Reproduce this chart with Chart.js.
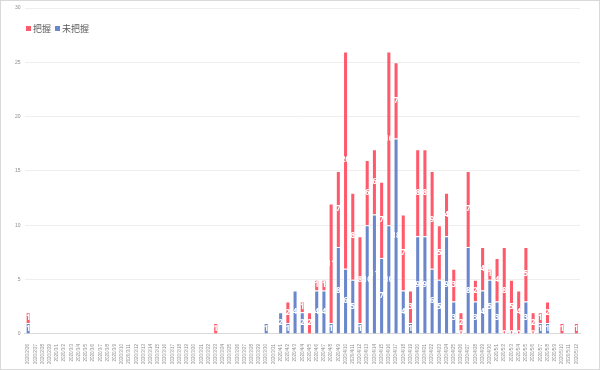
<!DOCTYPE html>
<html>
<head>
<meta charset="utf-8">
<script src="https://cdn.jsdelivr.net/npm/chart.js@4"></script>
<style>
  body { margin: 0; background: #fff; }
  .frame { position: relative; width: 600px; height: 370px; box-sizing: border-box; border: 1px solid #d9d9d9; }
  .legend { position: absolute; left: 25px; top: 21px; font: 9px "Noto Sans CJK JP", sans-serif; color: #595959; display: flex; gap: 4px; }
  .legend span { display: inline-flex; align-items: center; }
  .legend i { display: inline-block; width: 5px; height: 5px; margin-right: 2px; }
</style>
</head>
<body>
<div class="frame">
  <canvas id="chart" width="598" height="368"></canvas>
  <div class="legend" id="legend"></div>
</div>
<script>
// categories (daily)
const dates = [
  '2020/2/26','2020/2/27','2020/2/28','2020/2/29',
  '2020/3/1','2020/3/2','2020/3/3','2020/3/4','2020/3/5','2020/3/6','2020/3/7','2020/3/8',
  '2020/3/9','2020/3/10','2020/3/11','2020/3/12','2020/3/13','2020/3/14','2020/3/15','2020/3/16',
  '2020/3/17','2020/3/18','2020/3/19','2020/3/20','2020/3/21','2020/3/22','2020/3/23','2020/3/24',
  '2020/3/25','2020/3/26','2020/3/27','2020/3/28','2020/3/29','2020/3/30','2020/3/31',
  '2020/4/1','2020/4/2','2020/4/3','2020/4/4','2020/4/5','2020/4/6','2020/4/7','2020/4/8',
  '2020/4/9','2020/4/10','2020/4/11','2020/4/12','2020/4/13','2020/4/14','2020/4/15','2020/4/16',
  '2020/4/17','2020/4/18','2020/4/19','2020/4/20','2020/4/21','2020/4/22','2020/4/23','2020/4/24',
  '2020/4/25','2020/4/26','2020/4/27','2020/4/28','2020/4/29','2020/4/30',
  '2020/5/1','2020/5/2','2020/5/3','2020/5/4','2020/5/5','2020/5/6','2020/5/7','2020/5/8',
  '2020/5/9','2020/5/10','2020/5/11','2020/5/12'
];

// 未把握 (bottom, blue)
const unknown = [
  1, null, null, null, null, null, null, null, null, null, null, null, null, null, null, null,
  null, null, null, null, null, null, null, null, null, null, null, null, null, null, null, null,
  null, 1, null, 2, 1, 4, 2, null, 4, 4, 1, 8, 6, 5, 1, 10, 11, 7, 10, 18, 4, 1, 9, 9,
  6, 5, 9, 3, 0, 8, 3, 4, 5, 3, 0, 0, 0, 3, 0, 1, 1, null, null, null, null
];

// 把握 (top, red)
const known = [
  1, null, null, null, null, null, null, null, null, null, null, null, null, null, null, null,
  null, null, null, null, null, null, null, null, null, null, 1, null, null, null, null, null,
  null, null, null, null, 2, null, 1, 2, 1, 1, 11, 7, 20, 8, 8, 6, 6, 7, 16, 7, 7, 3, 8, 8,
  9, 5, 4, 3, 2, 7, 2, 4, 1, 4, 8, 5, 4, 5, 2, 1, 2, null, 1, null, 1
];

const yTicks = [0, 5, 10, 15, 20, 25, 30];
const legendOrder = ['把握', '未把握'];

// white value labels in the middle of every segment
const segmentLabels = {
  id: 'segmentLabels',
  afterDatasetsDraw(chart) {
    const ctx = chart.ctx;
    ctx.save();
    ctx.font = 'bold 8px "Noto Sans", sans-serif';
    ctx.fillStyle = '#ffffff';
    ctx.textAlign = 'center';
    ctx.textBaseline = 'middle';
    chart.data.datasets.forEach((ds, i) => {
      chart.getDatasetMeta(i).data.forEach((bar, j) => {
        const v = ds.data[j];
        if (v === null || v === undefined) return;
        const p = bar.getProps(['x', 'y', 'base'], true);
        ctx.fillText(String(v), p.x, (p.y + p.base) / 2);
      });
    });
    ctx.restore();
  }
};

const chart = new Chart(document.getElementById('chart'), {
  type: 'bar',
  data: {
    labels: dates,
    datasets: [
      { label: '未把握', data: unknown, backgroundColor: '#6a87cc', borderColor: 'rgba(255,255,255,0.45)', borderWidth: 1 },
      { label: '把握', data: known, backgroundColor: '#ff5a6c', borderColor: 'rgba(255,255,255,0.45)', borderWidth: 1 }
    ]
  },
  options: {
    responsive: false,
    animation: false,
    devicePixelRatio: 1,
    layout: { padding: { left: 10, right: 19, top: 6, bottom: 3 } },
    datasets: { bar: { categoryPercentage: 1, barPercentage: 0.7 } },
    plugins: { legend: { display: false }, tooltip: { enabled: false } },
    scales: {
      x: {
        stacked: true,
        grid: { display: false },
        border: { color: '#d9d9d9' },
        ticks: { autoSkip: false, maxRotation: 90, minRotation: 90, padding: 2, color: '#8c8c8c', font: { size: 4.5 } }
      },
      y: {
        stacked: true,
        min: 0,
        max: 30,
        afterBuildTicks: axis => { axis.ticks = yTicks.map(v => ({ value: v })); },
        grid: { color: '#eeeeee', drawTicks: false },
        border: { display: false },
        ticks: { padding: 4, color: '#8c8c8c', font: { size: 5 } }
      }
    }
  },
  plugins: [segmentLabels]
});

// legend in the top-left of the plot, like the original
const legendEl = document.getElementById('legend');
legendOrder.forEach(name => {
  const ds = chart.data.datasets.find(d => d.label === name);
  const item = document.createElement('span');
  item.innerHTML = `<i style="background:${ds.backgroundColor}"></i>${name}`;
  legendEl.appendChild(item);
});
</script>
</body>
</html>
